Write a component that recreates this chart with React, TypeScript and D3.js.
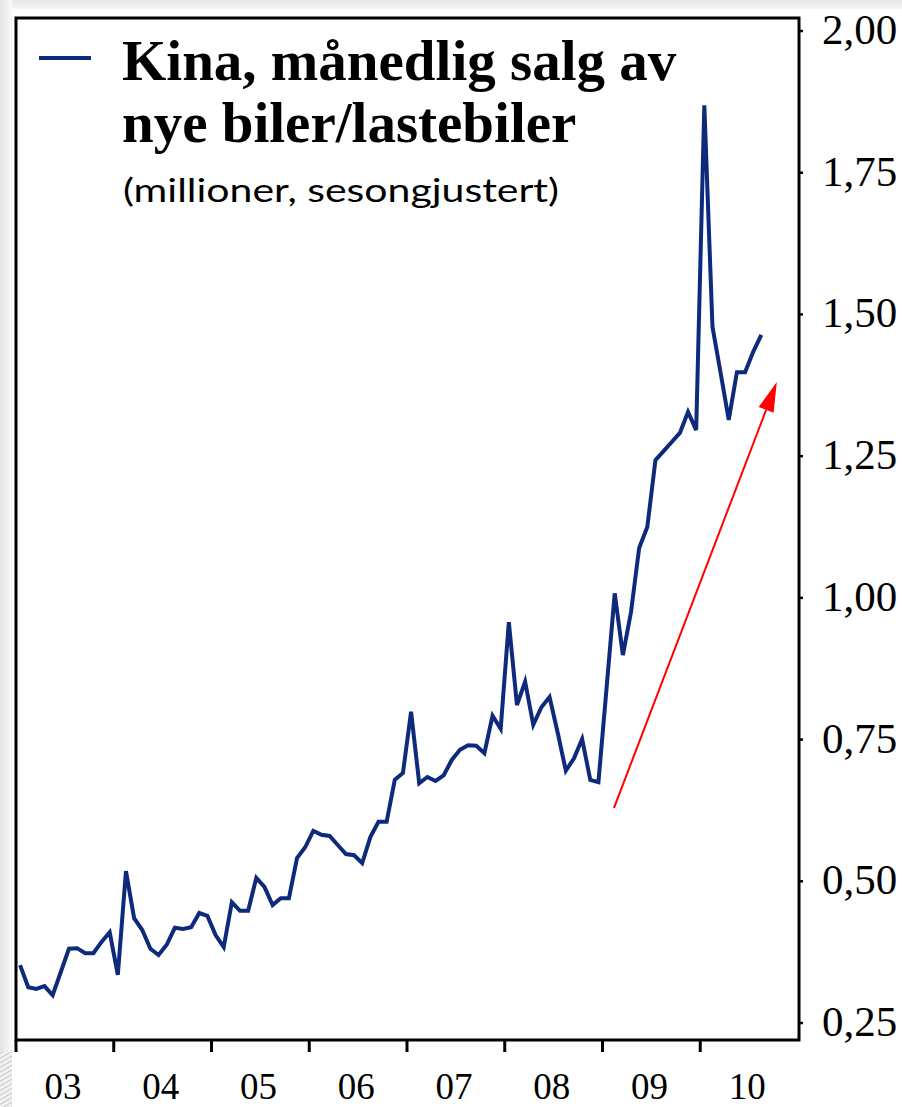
import React from "react";
import * as d3 from "d3";

// Monthly sales of new cars/trucks in China (millions, seasonally adjusted), Jan 2003 - Aug 2010
const startYear = 2003;
const sales: number[] = [
  0.352, 0.313, 0.310, 0.315, 0.299, 0.340, 0.381, 0.382, 0.373, 0.373, 0.393, 0.410,
  0.335, 0.518, 0.435, 0.414, 0.381, 0.370, 0.388, 0.418, 0.416, 0.419, 0.444, 0.439,
  0.405, 0.384, 0.463, 0.448, 0.448, 0.506, 0.490, 0.458, 0.470, 0.470, 0.541, 0.560,
  0.589, 0.582, 0.580, 0.564, 0.548, 0.546, 0.532, 0.578, 0.605, 0.605, 0.679, 0.691,
  0.799, 0.673, 0.684, 0.677, 0.687, 0.714, 0.732, 0.740, 0.739, 0.726, 0.792, 0.769,
  0.957, 0.811, 0.852, 0.776, 0.807, 0.825, 0.762, 0.695, 0.717, 0.751, 0.679, 0.675,
  0.841, 1.008, 0.899, 0.975, 1.088, 1.125, 1.243, 1.259, 1.275, 1.291, 1.328, 1.296,
  1.869, 1.478, 1.397, 1.314, 1.398, 1.398, 1.434, 1.464,
];
const yearLabels: string[] = ["03", "04", "05", "06", "07", "08", "09", "10"];
const yTicks: number[] = [0.25, 0.5, 0.75, 1.0, 1.25, 1.5, 1.75, 2.0];
// trend arrow annotation: [monthIndex, value]
const arrowFrom: [number, number] = [72.9, 0.629];
const arrowTo: [number, number] = [92.9, 1.381];

const titleLines: string[] = ["Kina, månedlig salg av", "nye biler/lastebiler"];
const subtitle = "(millioner, sesongjustert)";

export default function App() {
  const W = 902;
  const H = 1107;
  const left = 16, right = 799, top = 18, bottom = 1040;

  const x = d3.scaleLinear().domain([0, yearLabels.length * 12]).range([left, right - 1]);
  const y = d3.scaleLinear().domain([0.25, 2.0]).range([1023, 31]);

  const line = d3
    .line<number>()
    .x((_, i) => x(i + 0.5))
    .y((d) => y(d));

  const fmt = (v: number) => v.toFixed(2).replace(".", ",");

  const ax1 = x(arrowFrom[0] + 0.5), ay1 = y(arrowFrom[1]);
  const ax2 = x(arrowTo[0] + 0.5), ay2 = y(arrowTo[1]);
  const ang = Math.atan2(ay2 - ay1, ax2 - ax1);
  const headLen = 30, headW = 8;
  const bx = ax2 - headLen * Math.cos(ang), by = ay2 - headLen * Math.sin(ang);
  const head = [
    [ax2, ay2],
    [bx + headW * Math.sin(ang), by - headW * Math.cos(ang)],
    [bx - headW * Math.sin(ang), by + headW * Math.cos(ang)],
  ];

  const navy = "#0d2a7c";

  return (
    <div style={{ position: "absolute", left: 0, top: 0 }}>
      <svg width={W} height={H} style={{ display: "block", background: "#ffffff" }}>
        <defs>
          <linearGradient id="topg" x1="0" y1="0" x2="0" y2="1">
            <stop offset="0" stopColor="#e6e6e6" />
            <stop offset="1" stopColor="#f6f6f6" />
          </linearGradient>
          <linearGradient id="leftg" x1="0" y1="0" x2="1" y2="0">
            <stop offset="0" stopColor="#e4e4e4" />
            <stop offset="1" stopColor="#fafafa" />
          </linearGradient>
          <pattern id="hatch" width="4" height="4" patternUnits="userSpaceOnUse" patternTransform="rotate(-30)">
            <rect width="4" height="4" fill="#f2f2f2" />
            <line x1="0" y1="0" x2="4" y2="0" stroke="#b8b8b8" strokeWidth="1.5" />
          </pattern>
        </defs>
        <rect x={0} y={0} width={W} height={9} fill="url(#topg)" />
        <rect x={0} y={0} width={12} height={H} fill="url(#leftg)" />
        <rect x={0} y={1052} width={12} height={H - 1052} fill="url(#hatch)" />

        {/* plot frame */}
        <rect x={left} y={top} width={right - left} height={bottom - top} fill="#ffffff" stroke="#000" strokeWidth={3} />

        {/* x ticks */}
        {yearLabels.map((lab, k) => (
          <g key={lab}>
            <line x1={x(k * 12)} x2={x(k * 12)} y1={bottom} y2={1052} stroke="#000" strokeWidth={3} />
            <text
              x={x(k * 12 + 6) - 2}
              y={1099}
              textAnchor="middle"
              fontFamily="'Liberation Serif', 'Times New Roman', serif"
              fontSize={37}
              fill="#000"
            >
              {lab}
            </text>
          </g>
        ))}

        {/* y ticks */}
        {yTicks.map((t) => (
          <g key={t}>
            <line x1={right} x2={right + 4} y1={y(t)} y2={y(t)} stroke="#000" strokeWidth={2.5} />
            <text
              x={822}
              y={y(t) + 13}
              fontFamily="'Liberation Serif', 'Times New Roman', serif"
              fontSize={43}
              fill="#000"
            >
              {fmt(t)}
            </text>
          </g>
        ))}

        {/* data line */}
        <path d={line(sales) || ""} fill="none" stroke={navy} strokeWidth={4} strokeLinejoin="miter" />

        {/* arrow */}
        <line x1={ax1} y1={ay1} x2={bx} y2={by} stroke="#ff0000" strokeWidth={2} />
        <polygon points={head.map((p) => p.join(",")).join(" ")} fill="#ff0000" />

        {/* legend */}
        <line x1={39} x2={91} y1={58} y2={58} stroke={navy} strokeWidth={4} />
        {titleLines.map((t, k) => (
          <text
            key={t}
            x={122}
            y={80 + k * 62}
            fontFamily="'Liberation Serif', 'Times New Roman', serif"
            fontWeight="bold"
            fontSize={57}
            fill="#000"
          >
            {t}
          </text>
        ))}
        <text
          x={123}
          y={202}
          fontFamily="Lato, 'Open Sans', sans-serif"
          fontSize={33}
          textLength={436}
          lengthAdjust="spacingAndGlyphs"
          fill="#000"
        >
          {subtitle}
        </text>
      </svg>
    </div>
  );
}
